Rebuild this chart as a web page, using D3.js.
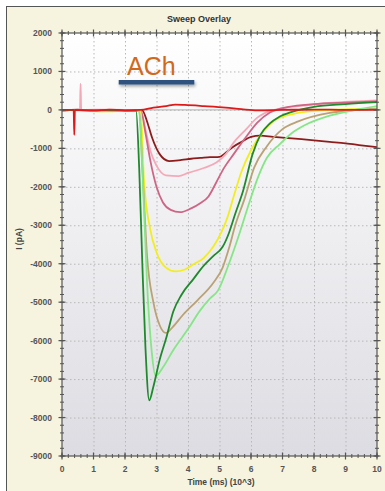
<!DOCTYPE html>
<html><head><meta charset="utf-8">
<script src="https://cdn.jsdelivr.net/npm/d3@7"></script>
<style>
html,body{margin:0;padding:0;background:#fff;}
svg{display:block;font-family:"Liberation Sans",Arial,sans-serif;}
</style></head>
<body><svg id="c" width="385" height="491"></svg>
<script>
const chartTitle = "Sweep Overlay";
const xLabel = "Time (ms) (10^3)";
const yLabel = "I (pA)";
const annotation = "ACh";
const xTicks = [0,1,2,3,4,5,6,7,8,9,10];
const yTicks = [2000,1000,0,-1000,-2000,-3000,-4000,-5000,-6000,-7000,-8000,-9000];
const bar = [1.8, 4.2]; // ACh application bar, time in 10^3 ms

const seriesNames = ["baseline","darkRed","lightPink","duskyRose","yellow","tan","lightGreen","darkGreen","red"];
const seriesColors = ["#bdbdbd","#8e1c1c","#f5a9b8","#cf6585","#f2ee1e","#baa274","#86e686","#1f8a2c","#dc1a1a"];

const baseline = [[0,0],[10,0]];
const darkRed = [[0,-20],[0.5,10],[1,-20],[1.5,0],[2,-10],[2.55,-20],[2.7,-300],[2.85,-700],[3.1,-1150],[3.4,-1330],[3.8,-1300],[4.1,-1270],[4.4,-1250],[4.7,-1230],[5.0,-1220],[5.25,-1080],[5.45,-950],[5.7,-830],[6.0,-700],[6.3,-670],[6.7,-700],[7.0,-720],[7.6,-760],[8.0,-790],[8.5,-830],[9.0,-870],[9.5,-920],[10,-970]];
const lightPink = [[0,0],[0.57,0],[0.59,680],[0.61,0],[1.5,10],[2.5,-10],[2.65,-500],[2.8,-1050],[3.0,-1450],[3.3,-1700],[3.7,-1720],[4.0,-1640],[4.5,-1510],[4.9,-1370],[5.2,-1150],[5.45,-850],[5.85,-500],[6.2,-200],[6.6,-30],[7.0,50],[7.5,100],[8.5,180],[9.3,220],[10,250]];
const duskyRose = [[0,0],[2.5,-20],[2.65,-600],[2.8,-1300],[3.0,-2000],[3.2,-2400],[3.45,-2600],[3.75,-2660],[4.1,-2560],[4.4,-2420],[4.65,-2250],[4.9,-1880],[5.15,-1500],[5.45,-1150],[5.8,-750],[6.2,-330],[6.6,-70],[7.2,80],[8,150],[9,190],[10,220]];
const yellow = [[0,0],[1.5,-40],[2.0,-20],[2.5,-20],[2.6,-1800],[2.8,-3100],[3.0,-3700],[3.3,-4100],[3.6,-4200],[3.9,-4150],[4.2,-4000],[4.5,-3850],[4.8,-3560],[5.05,-3200],[5.25,-2800],[5.45,-2250],[5.7,-1600],[6.0,-1050],[6.4,-550],[6.8,-250],[7.5,-80],[8.5,0],[10,30]];
const tan = [[0,0],[2.45,-20],[2.55,-1500],[2.7,-3800],[2.9,-5000],[3.1,-5600],[3.3,-5800],[3.5,-5660],[3.85,-5320],[4.3,-4950],[4.8,-4500],[5.1,-4100],[5.3,-3600],[5.5,-3000],[5.8,-2300],[6.1,-1500],[6.5,-950],[7.0,-500],[7.5,-300],[8.5,-80],[10,30]];
const lightGreen = [[0,0],[2.45,-20],[2.55,-1500],[2.7,-4500],[2.85,-6300],[2.97,-6920],[3.2,-6700],[3.53,-6250],[4.0,-5700],[4.38,-5220],[4.7,-4900],[4.95,-4700],[5.3,-4000],[5.6,-3300],[5.95,-2400],[6.2,-1800],[6.5,-1250],[6.9,-900],[7.3,-600],[7.7,-400],[8.5,-150],[9.3,0],[10,100]];
const darkGreen = [[0,0],[2.35,-20],[2.45,-1500],[2.55,-4000],[2.65,-6200],[2.77,-7550],[2.9,-7200],[3.1,-6500],[3.32,-5900],[3.53,-5250],[3.8,-4800],[4.17,-4400],[4.5,-4050],[4.8,-3800],[5.1,-3560],[5.3,-3200],[5.5,-2700],[5.75,-2100],[6.05,-1150],[6.3,-650],[6.6,-350],[6.9,-180],[7.3,-50],[8,80],[9,150],[10,200]];
const red = [[0,0],[0.37,0],[0.39,-650],[0.41,0],[1,-20],[1.5,10],[2.0,-10],[2.5,0],[2.9,60],[3.3,100],[3.6,140],[3.9,130],[4.5,100],[5.2,60],[5.7,20],[6.2,-10],[7,0],[8,10],[9,0],[10,0]];

const seriesData = {baseline,darkRed,lightPink,duskyRose,yellow,tan,lightGreen,darkGreen,red};

const svg = d3.select("#c");
const W = 385, H = 491;
const x = d3.scaleLinear().domain([0,10]).range([62,377]);
const y = d3.scaleLinear().domain([-9000,2000]).range([456,33]);

// panel background
svg.append("rect").attr("x",6).attr("y",6).attr("width",W-6).attr("height",H-6).attr("fill","#f6f4de");
svg.append("line").attr("x1",6).attr("x2",W).attr("y1",6.5).attr("y2",6.5).attr("stroke","#555").attr("stroke-width",1);
svg.append("line").attr("x1",6.5).attr("x2",6.5).attr("y1",6).attr("y2",H).attr("stroke","#555").attr("stroke-width",1);

const defs = svg.append("defs");
const g1 = defs.append("linearGradient").attr("id","bg").attr("x1",0).attr("x2",0).attr("y1",0).attr("y2",1);
g1.append("stop").attr("offset","0%").attr("stop-color","#ffffff");
g1.append("stop").attr("offset","100%").attr("stop-color","#dcdce2");
const sh = defs.append("filter").attr("id","sh").attr("x","-20%").attr("y","-100%").attr("width","140%").attr("height","400%");
sh.append("feDropShadow").attr("dx",1).attr("dy",2).attr("stdDeviation",1.5).attr("flood-color","#000").attr("flood-opacity",0.35);
defs.append("clipPath").attr("id","clip").append("rect")
  .attr("x",x(0)).attr("y",y(2000)).attr("width",x(10)-x(0)).attr("height",y(-9000)-y(2000));

svg.append("rect").attr("x",x(0)).attr("y",y(2000)).attr("width",x(10)-x(0)).attr("height",y(-9000)-y(2000)).attr("fill","url(#bg)");

// grid
const grid = svg.append("g");
grid.selectAll(".gx").data(xTicks.slice(1,-1)).join("line")
  .attr("x1",d=>x(d)+0.5).attr("x2",d=>x(d)+0.5).attr("y1",y(2000)).attr("y2",y(-9000))
  .attr("stroke","#b8b8b8").attr("stroke-dasharray","1.5,2.5");
grid.selectAll(".gy").data(yTicks.slice(1,-1)).join("line")
  .attr("y1",d=>y(d)+0.5).attr("y2",d=>y(d)+0.5).attr("x1",x(0)).attr("x2",x(10))
  .attr("stroke","#b8b8b8").attr("stroke-dasharray","1.5,2.5");

// traces
const line = d3.line().x(d=>x(d[0])).y(d=>y(d[1])).curve(d3.curveMonotoneX);
const tr = svg.append("g").attr("clip-path","url(#clip)");
seriesNames.forEach((n,i)=>{
  tr.append("path").datum(seriesData[n]).attr("d",line).attr("fill","none")
    .attr("stroke",seriesColors[i]).attr("stroke-width", n==="baseline"?1.2:1.8).attr("stroke-linejoin","round");
});

// axes (all four sides)
const axCol = "#555";
const minorX = d3.range(0,10.001,0.2);
const minorY = d3.range(-9000,2001,200);
function axisLines(){
  const a = svg.append("g");
  a.append("rect").attr("x",x(0)).attr("y",y(2000)).attr("width",x(10)-x(0)).attr("height",y(-9000)-y(2000))
    .attr("fill","none").attr("stroke",axCol).attr("stroke-width",1.2);
  [y(-9000), y(2000)].forEach(yy=>{
    a.selectAll(null).data(minorX).join("line")
      .attr("x1",d=>x(d)).attr("x2",d=>x(d)).attr("y1",yy-2).attr("y2",yy+2)
      .attr("stroke",axCol).attr("stroke-width",1);
    a.selectAll(null).data(xTicks).join("line")
      .attr("x1",d=>x(d)).attr("x2",d=>x(d)).attr("y1",yy-3.5).attr("y2",yy+3.5)
      .attr("stroke",axCol).attr("stroke-width",1.2);
  });
  [x(0), x(10)].forEach(xx=>{
    a.selectAll(null).data(minorY).join("line")
      .attr("y1",d=>y(d)).attr("y2",d=>y(d)).attr("x1",xx-2).attr("x2",xx+2)
      .attr("stroke",axCol).attr("stroke-width",1);
    a.selectAll(null).data(yTicks).join("line")
      .attr("y1",d=>y(d)).attr("y2",d=>y(d)).attr("x1",xx-3.5).attr("x2",xx+3.5)
      .attr("stroke",axCol).attr("stroke-width",1.2);
  });
}
axisLines();

// tick labels
svg.append("g").selectAll("text").data(yTicks).join("text")
  .attr("x",52).attr("y",d=>y(d)+3).attr("text-anchor","end").text(d=>d)
  .attr("fill","#555").attr("font-size","8.5px").attr("font-weight","bold");
svg.append("g").selectAll("text").data(xTicks).join("text")
  .attr("x",d=>x(d)).attr("y",472).attr("text-anchor","middle").text(d=>d)
  .attr("fill","#555").attr("font-size","8.5px").attr("font-weight","bold");

svg.append("text").attr("x",221).attr("y",485).attr("text-anchor","middle").text(xLabel)
  .attr("fill","#444").attr("font-size","8.5px").attr("font-weight","bold");
svg.append("text").attr("transform","translate(22,239) rotate(-90)").attr("text-anchor","middle").text(yLabel)
  .attr("fill","#444").attr("font-size","8.5px").attr("font-weight","bold");
svg.append("text").attr("x",199).attr("y",22).attr("text-anchor","middle").text(chartTitle)
  .attr("fill","#333").attr("font-size","9px").attr("font-weight","bold");

// ACh annotation
svg.append("rect").attr("x",x(bar[0])).attr("y",80).attr("width",x(bar[1])-x(bar[0])).attr("height",4.5)
  .attr("fill","#2f5180").attr("filter","url(#sh)");
svg.append("text").attr("x",127).attr("y",75).text(annotation)
  .attr("fill","#d2691a").attr("font-size","25px").attr("font-family","'Liberation Sans',Arial,sans-serif");
</script></body></html>
